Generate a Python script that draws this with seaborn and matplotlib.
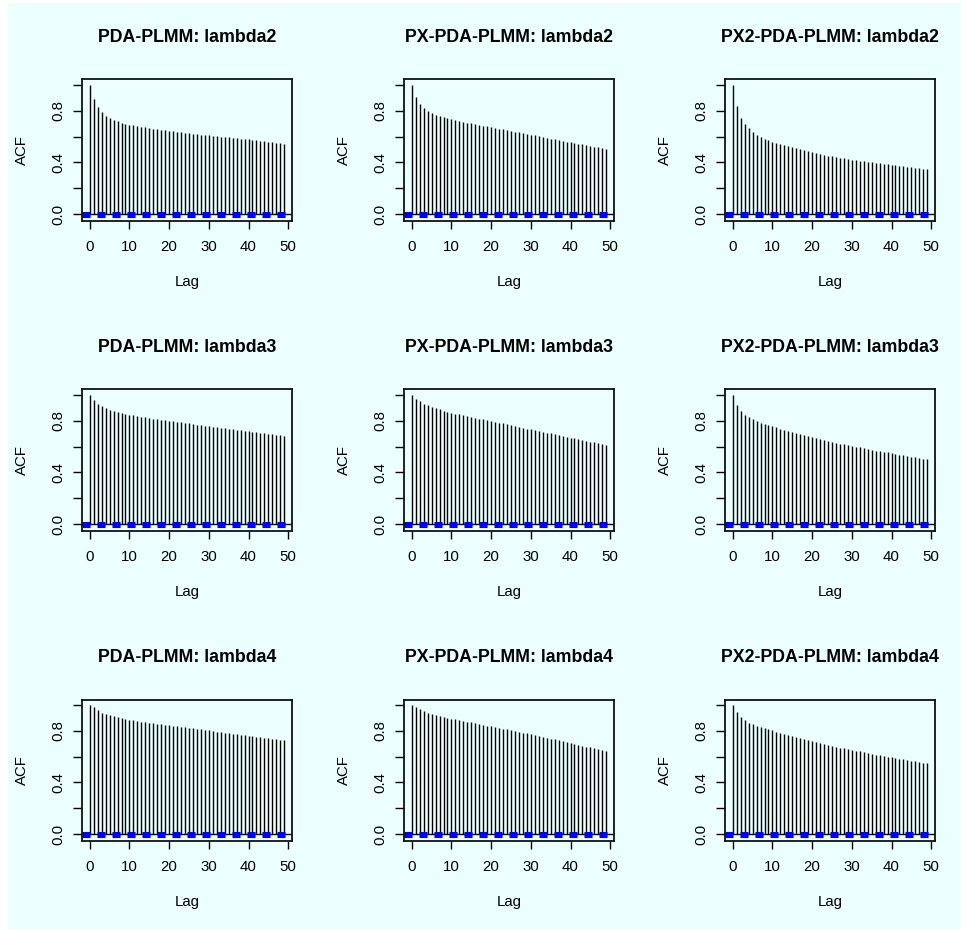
import numpy as np
import pandas as pd
import matplotlib
matplotlib.use("Agg")
import matplotlib.pyplot as plt
import seaborn as sns

# ---------------- data ----------------
lags = list(range(50))
ci = 0.0125  # half width of the (blue) confidence band

titles = [
    "PDA-PLMM: lambda2", "PX-PDA-PLMM: lambda2", "PX2-PDA-PLMM: lambda2",
    "PDA-PLMM: lambda3", "PX-PDA-PLMM: lambda3", "PX2-PDA-PLMM: lambda3",
    "PDA-PLMM: lambda4", "PX-PDA-PLMM: lambda4", "PX2-PDA-PLMM: lambda4",
]

acf_pda_l2 = [
    1.000, 0.890, 0.830, 0.790, 0.762, 0.742, 0.727, 0.716, 0.707, 0.699,
    0.692, 0.686, 0.680, 0.675, 0.670, 0.665, 0.661, 0.657, 0.652, 0.648,
    0.644, 0.640, 0.636, 0.632, 0.628, 0.625, 0.622, 0.618, 0.615, 0.612,
    0.608, 0.605, 0.602, 0.599, 0.596, 0.593, 0.590, 0.587, 0.584, 0.581,
    0.578, 0.574, 0.570, 0.566, 0.562, 0.558, 0.554, 0.550, 0.547, 0.544]
acf_px_l2 = [
    1.000, 0.904, 0.852, 0.817, 0.795, 0.778, 0.766, 0.756, 0.748, 0.740,
    0.733, 0.726, 0.720, 0.714, 0.708, 0.702, 0.696, 0.690, 0.685, 0.679,
    0.673, 0.667, 0.661, 0.655, 0.649, 0.643, 0.637, 0.631, 0.625, 0.619,
    0.614, 0.608, 0.602, 0.596, 0.590, 0.584, 0.578, 0.572, 0.566, 0.561,
    0.555, 0.550, 0.544, 0.539, 0.533, 0.527, 0.522, 0.516, 0.511, 0.505]
acf_px2_l2 = [
    1.000, 0.834, 0.745, 0.696, 0.662, 0.636, 0.615, 0.598, 0.584, 0.572,
    0.561, 0.551, 0.542, 0.533, 0.524, 0.516, 0.508, 0.500, 0.492, 0.485,
    0.478, 0.471, 0.465, 0.459, 0.453, 0.447, 0.442, 0.437, 0.432, 0.427,
    0.422, 0.417, 0.413, 0.408, 0.404, 0.400, 0.396, 0.392, 0.388, 0.384,
    0.380, 0.376, 0.373, 0.369, 0.366, 0.362, 0.359, 0.355, 0.352, 0.348]
acf_pda_l3 = [
    1.000, 0.956, 0.930, 0.912, 0.897, 0.884, 0.874, 0.866, 0.859, 0.853,
    0.847, 0.841, 0.836, 0.831, 0.826, 0.821, 0.816, 0.811, 0.807, 0.802,
    0.798, 0.794, 0.790, 0.786, 0.782, 0.778, 0.774, 0.770, 0.766, 0.762,
    0.758, 0.754, 0.750, 0.746, 0.742, 0.738, 0.734, 0.730, 0.726, 0.722,
    0.718, 0.714, 0.710, 0.706, 0.702, 0.698, 0.694, 0.690, 0.686, 0.681]
acf_px_l3 = [
    1.000, 0.969, 0.948, 0.931, 0.917, 0.905, 0.895, 0.886, 0.877, 0.869,
    0.861, 0.855, 0.848, 0.842, 0.835, 0.829, 0.823, 0.816, 0.810, 0.803,
    0.797, 0.791, 0.784, 0.778, 0.771, 0.765, 0.759, 0.752, 0.746, 0.739,
    0.733, 0.727, 0.720, 0.714, 0.707, 0.701, 0.695, 0.688, 0.682, 0.675,
    0.669, 0.663, 0.656, 0.650, 0.643, 0.637, 0.631, 0.624, 0.618, 0.611]
acf_px2_l3 = [
    1.000, 0.922, 0.875, 0.847, 0.826, 0.809, 0.795, 0.783, 0.773, 0.764,
    0.756, 0.747, 0.738, 0.729, 0.720, 0.712, 0.704, 0.696, 0.688, 0.680,
    0.672, 0.665, 0.658, 0.651, 0.644, 0.637, 0.630, 0.623, 0.617, 0.611,
    0.605, 0.599, 0.593, 0.587, 0.581, 0.575, 0.569, 0.564, 0.559, 0.554,
    0.549, 0.543, 0.538, 0.532, 0.527, 0.521, 0.516, 0.511, 0.505, 0.500]
acf_pda_l4 = [
    1.000, 0.979, 0.956, 0.940, 0.928, 0.918, 0.910, 0.903, 0.897, 0.891,
    0.885, 0.880, 0.875, 0.870, 0.866, 0.861, 0.857, 0.853, 0.849, 0.845,
    0.841, 0.837, 0.833, 0.829, 0.825, 0.821, 0.817, 0.813, 0.809, 0.805,
    0.801, 0.797, 0.793, 0.789, 0.785, 0.781, 0.777, 0.773, 0.769, 0.765,
    0.761, 0.757, 0.753, 0.749, 0.745, 0.741, 0.737, 0.733, 0.729, 0.725]
acf_px_l4 = [
    1.000, 0.984, 0.964, 0.950, 0.940, 0.931, 0.922, 0.914, 0.907, 0.900,
    0.893, 0.887, 0.881, 0.875, 0.869, 0.863, 0.857, 0.851, 0.845, 0.839,
    0.833, 0.827, 0.821, 0.815, 0.809, 0.803, 0.797, 0.791, 0.785, 0.778,
    0.772, 0.765, 0.759, 0.752, 0.746, 0.739, 0.732, 0.726, 0.719, 0.712,
    0.705, 0.698, 0.691, 0.684, 0.677, 0.670, 0.663, 0.656, 0.649, 0.642]
acf_px2_l4 = [
    1.000, 0.943, 0.906, 0.880, 0.862, 0.849, 0.838, 0.828, 0.819, 0.810,
    0.801, 0.792, 0.783, 0.774, 0.766, 0.758, 0.750, 0.742, 0.734, 0.726,
    0.718, 0.711, 0.704, 0.697, 0.690, 0.683, 0.676, 0.669, 0.663, 0.657,
    0.651, 0.645, 0.639, 0.633, 0.627, 0.621, 0.615, 0.609, 0.603, 0.598,
    0.593, 0.588, 0.583, 0.578, 0.573, 0.568, 0.563, 0.558, 0.553, 0.548]

series = [acf_pda_l2, acf_px_l2, acf_px2_l2,
          acf_pda_l3, acf_px_l3, acf_px2_l3,
          acf_pda_l4, acf_px_l4, acf_px2_l4]

x_ticks = [0, 10, 20, 30, 40, 50]
y_ticks = [0.0, 0.2, 0.4, 0.6, 0.8, 1.0]
y_ticklabels = ["0.0", "", "0.4", "", "0.8", ""]

# ---------------- style ----------------
sns.set_style("ticks")
plt.rcParams["font.family"] = ["Liberation Sans", "DejaVu Sans"]
plt.rcParams["lines.scale_dashes"] = False
for key in ["text.color", "axes.labelcolor", "xtick.color", "ytick.color",
            "axes.edgecolor"]:
    plt.rcParams[key] = "black"

BG = "#EBFFFF"
W, H = 961, 930
fig = plt.figure(figsize=(W / 100, H / 100), dpi=100, facecolor="white")
# cyan panel (white strip at left and top as in reference)
fig.patches.append(plt.Rectangle((8 / W, 0), 1 - 8 / W + 0.01, 1 - 3 / H,
                                 transform=fig.transFigure, facecolor=BG,
                                 edgecolor="none", zorder=-10))

lefts = [82, 404, 725]
tops = [79.5, 389.5, 699.5]
aw, ah = 210, 141.5

for i, (title, vals) in enumerate(zip(titles, series)):
    r, c = divmod(i, 3)
    ax = fig.add_axes([lefts[c] / W, 1 - (tops[r] + ah) / H, aw / W, ah / H])
    ax.set_facecolor("none")
    df = pd.DataFrame({"lag": lags, "acf": vals})

    # spikes
    ax.vlines(df["lag"], 0, df["acf"], color="black", linewidth=1.0)

    # x/y limits like R (4% padding)
    xmin, xmax = min(lags), max(lags)
    xpad = 0.04 * (xmax - xmin)
    ymin, ymax = -ci, max(vals)
    ypad = 0.04 * (ymax - ymin)
    ax.set_xlim(xmin - xpad, xmax + xpad)
    ax.set_ylim(ymin - ypad, ymax + ypad)

    # zero line and confidence band
    ax.axhline(0, color="black", linewidth=1.0)
    xl = ax.get_xlim()
    for s in (ci, -ci):
        band = pd.DataFrame({"x": [xl[0], xl[1]], "y": [s, s]})
        sns.lineplot(data=band, x="x", y="y", ax=ax, color="#0000FF",
                     linewidth=2.2, dashes=False, linestyle=(0, (5.8, 5.0)),
                     estimator=None, sort=False)

    ax.set_xticks(x_ticks)
    ax.set_yticks(y_ticks)
    ax.set_yticklabels(y_ticklabels, rotation=90, va="center")
    ax.tick_params(axis="x", length=5.8, width=1.0, pad=8,
                   labelsize=10.8, color="black")
    ax.tick_params(axis="y", length=6.5, width=1.0, pad=5.5,
                   labelsize=10.8, color="black")
    for sp in ax.spines.values():
        sp.set_visible(True)
        sp.set_linewidth(1.3)
        sp.set_color("#111111")

    ax.set_title(title, fontsize=12.8, fontweight="bold", pad=27)
    ax.set_xlabel("Lag", fontsize=10.8)
    ax.set_ylabel("ACF", fontsize=10.8)
    ax.xaxis.set_label_coords(0.5, -54 / ah)
    ax.xaxis.label.set_va("top")
    ax.yaxis.set_label_coords(-53 / aw, 0.5)

fig.savefig("out.png", dpi=100, facecolor=fig.get_facecolor())
